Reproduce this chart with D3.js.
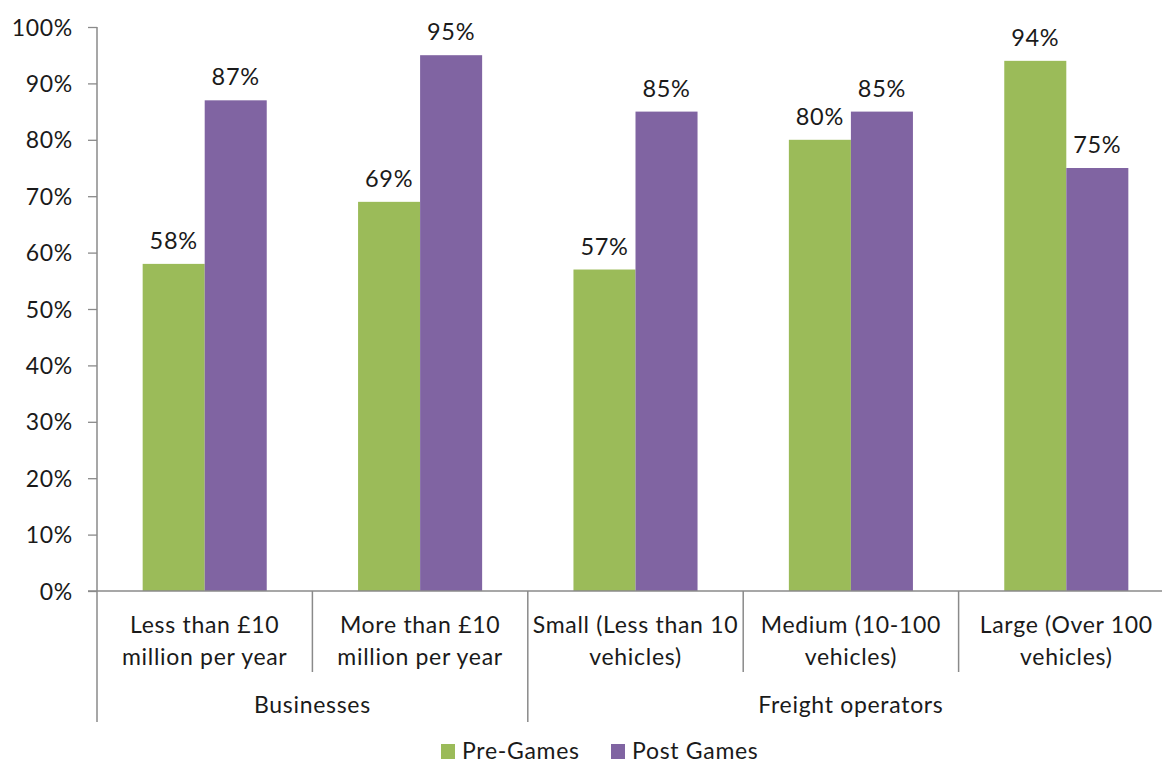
<!DOCTYPE html>
<html>
<head>
<meta charset="utf-8">
<script src="https://cdn.jsdelivr.net/npm/d3@7"></script>
<style>
  html, body { margin: 0; padding: 0; background: #fff; }
  text { font-family: Lato, "Open Sans", sans-serif; fill: #1a1a1a; letter-spacing: 0.7px; }
</style>
</head>
<body>
<svg id="chart" width="1162" height="763"></svg>
<script>
// Survey share by respondent type, before and after the Games
const categories = [
  ["Less than £10", "million per year"],
  ["More than £10", "million per year"],
  ["Small (Less than 10", "vehicles)"],
  ["Medium (10-100", "vehicles)"],
  ["Large (Over 100", "vehicles)"]
];
const groups = [
  { name: "Businesses", from: 0, to: 1 },
  { name: "Freight operators", from: 2, to: 4 }
];
const seriesNames = ["Pre-Games", "Post Games"];
const preGames = [58, 69, 57, 80, 94];
const postGames = [87, 95, 85, 85, 75];
const yTicks = [0, 10, 20, 30, 40, 50, 60, 70, 80, 90, 100];
const colors = ["#9BBB59", "#8064A2"];

const svg = d3.select("#chart");
const plotLeft = 97, plotRight = 1174, plotTop = 27, plotBottom = 591;
const axisColor = "#8a8a8a";
const fontSize = 23;

const x = d3.scaleBand().domain(d3.range(categories.length)).range([plotLeft, plotRight]).padding(0);
const bw = x.bandwidth() * 0.288;
const xs = d3.scaleBand().domain([0, 1]).range([0, bw * 2]);
const y = d3.scaleLinear().domain([0, 100]).range([plotBottom, plotTop]);

const series = [preGames, postGames];

// bars and value labels
series.forEach((vals, si) => {
  svg.append("g").selectAll("rect").data(vals).join("rect")
    .attr("x", (d, i) => x(i) + x.bandwidth() / 2 - bw + xs(si))
    .attr("y", d => y(d))
    .attr("width", xs.bandwidth())
    .attr("height", d => y(0) - y(d))
    .attr("fill", colors[si]);
  svg.append("g").selectAll("text").data(vals).join("text")
    .attr("x", (d, i) => x(i) + x.bandwidth() / 2 - bw + xs(si) + xs.bandwidth() / 2)
    .attr("y", d => y(d) - 15)
    .attr("text-anchor", "middle")
    .attr("font-size", 23.5)
    .text(d => d + "%");
});

// y axis
const yAxis = d3.axisLeft(y).tickValues(yTicks).tickSize(9).tickPadding(15)
  .tickFormat(d => d + "%");
const gy = svg.append("g").attr("transform", `translate(${plotLeft},0)`).call(yAxis);
gy.select(".domain").remove();
gy.selectAll("line").attr("stroke", axisColor).attr("stroke-width", 1.3);
gy.selectAll("text").attr("font-size", fontSize).attr("dy", "0.35em")
  .style("font-family", "Lato, sans-serif").style("letter-spacing", "0.7px").attr("fill", "#1a1a1a");

const axisG = svg.append("g").attr("stroke", axisColor).attr("stroke-width", 1.5);
// vertical axis line extending down through the label area
axisG.append("line").attr("x1", plotLeft).attr("x2", plotLeft).attr("y1", plotTop).attr("y2", 722);
// baseline
axisG.append("line").attr("x1", plotLeft - 9).attr("x2", plotRight).attr("y1", plotBottom).attr("y2", plotBottom);
// category separators
d3.range(1, categories.length).forEach(i => {
  const isGroupEdge = groups.some(g => g.from === i);
  axisG.append("line")
    .attr("x1", x(i)).attr("x2", x(i))
    .attr("y1", plotBottom).attr("y2", isGroupEdge ? 722 : 672);
});

// category labels
categories.forEach((lines, i) => {
  const t = svg.append("text")
    .attr("text-anchor", "middle")
    .attr("font-size", fontSize);
  lines.forEach((ln, li) => {
    t.append("tspan").attr("x", x(i) + x.bandwidth() / 2).attr("y", 633 + li * 32).text(ln);
  });
});

// group labels
groups.forEach(g => {
  const cx = (x(g.from) + x(g.to) + x.bandwidth()) / 2;
  svg.append("text").attr("x", cx).attr("y", 713)
    .attr("text-anchor", "middle").attr("font-size", fontSize).text(g.name);
});

// legend
const legendX = [441, 611];
seriesNames.forEach((name, i) => {
  svg.append("rect").attr("x", legendX[i]).attr("y", 744).attr("width", 14).attr("height", 15).attr("fill", colors[i]);
  svg.append("text").attr("x", legendX[i] + 21).attr("y", 759).attr("font-size", fontSize).text(name);
});
</script>
</body>
</html>
